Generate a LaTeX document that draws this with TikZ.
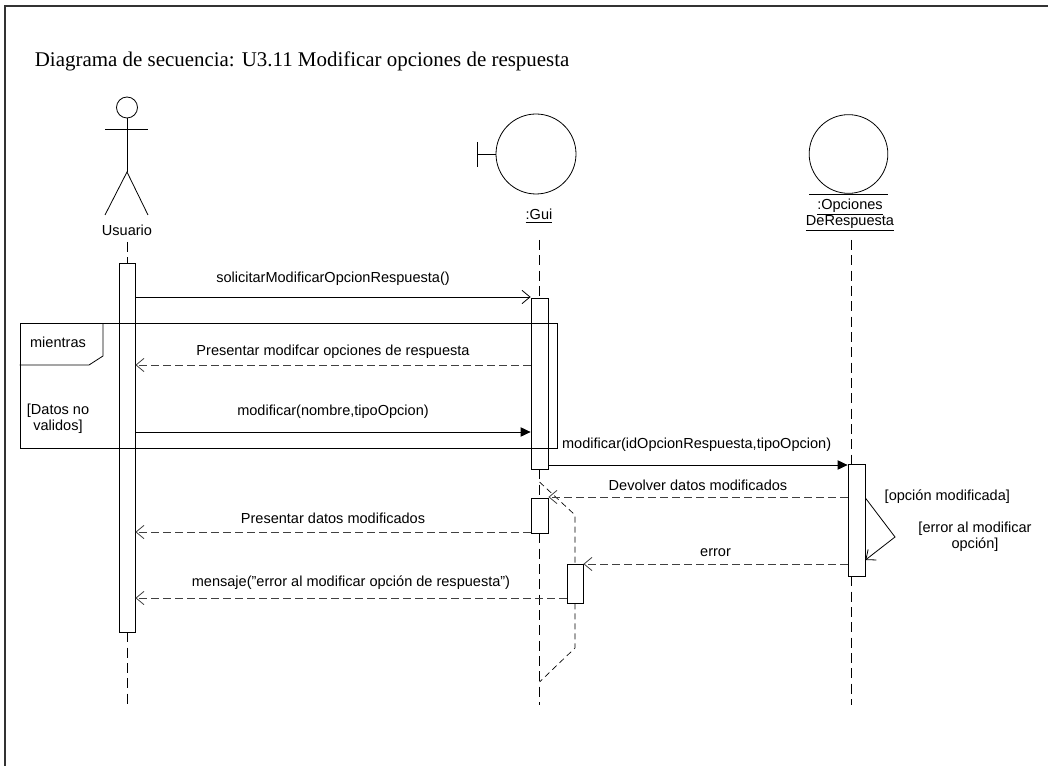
\documentclass[tikz,border=0pt]{standalone}
\usepackage{fontspec}
\setmainfont{Liberation Serif}
\setsansfont{Liberation Sans}
\usetikzlibrary{arrows.meta,fit}

\begin{document}
\begin{tikzpicture}[x=0.75pt, y=-0.75pt, line width=0.6pt,
    lbl/.style={font=\sffamily\fontsize{10.9}{12.3}\selectfont, inner sep=1pt},
    lifeline/.style={dash pattern=on 7.5pt off 4pt},
    branch/.style={dash pattern=on 4.5pt off 3pt, line width=0.5pt},
    actbar/.style={draw, fill=white, inner sep=0pt},
    call/.style={-{Triangle[length=7.5pt,width=7pt]}},
    send/.style={-{Straight Barb[length=6pt,width=10pt]}},
    reply/.style={send, dash pattern=on 6pt off 3pt, draw=black!75}]

    \useasboundingbox (0,0) rectangle (1048,766);

    % Frame and title
    \draw[line width=1pt, black!80] (1048,6) -- (5,6) -- (5,766);
    \node[anchor=base west, font=\rmfamily\fontsize{15.7}{18}\selectfont] (title) at (30,67)
        {Diagrama de secuencia: U3.11 Modificar opciones de respuesta};

    % Actor Usuario
    \node[draw, circle, minimum size=15.75pt, inner sep=0pt] (head) at (127,107.5) {};
    \draw (105,129) -- (148,129);
    \draw (head.south) -- (127,172) coordinate (hip);
    \draw (105,215) -- (hip) -- (148,215);
    \node[lbl] (usuario) at (127,230) {Usuario};

    % Boundary :Gui
    \node[draw, circle, minimum size=60pt, inner sep=0pt] (gui) at (536,154) {};
    \draw (gui.west) -- (477,154);
    \draw (477,142) -- (477,167);
    \node[lbl] (guilbl) at (539,216) {\underline{:Gui}};

    % Entity :OpcionesDeRespuesta
    \node[draw, circle, minimum size=59pt, inner sep=0pt] (opc) at (848.5,154) {};
    \draw (809,194) -- (888,194);
    \node[lbl, align=center] (opclbl) at (850,215) {\underline{:Opciones}\\\underline{DeRespuesta}};

    % Lifelines
    \coordinate (usrtop) at (127,242);
    \coordinate (usrend) at (127,705);
    \coordinate (guitop) at (539.5,240);
    \coordinate (guiend) at (539.5,705);
    \coordinate (opctop) at (851,240);
    \coordinate (opcend) at (851,705);

    % Activation bars
    \node[actbar, fit={(119,263) (135,632)}] (usrbar) {};
    \node[actbar, fit={(531,298) (548,469)}] (guibarA) {};
    \node[actbar, fit={(531,498) (548,533)}] (guibarB) {};
    \node[actbar, fit={(567,564) (583,603)}] (guibarC) {};
    \node[actbar, fit={(848,464) (865,576)}] (opcbar) {};

    \draw[lifeline] (usrtop) -- (usrbar.north);
    \draw[lifeline] (usrbar.south) -- (usrend);
    \draw[lifeline] (guitop) -- (guibarA.north);
    \draw[lifeline] (guibarA.south) -- (guibarB.north);
    \draw[lifeline] (guibarB.south) -- (guiend);
    \draw[lifeline] (opctop) -- (opctop |- opcbar.north);
    \draw[lifeline] (opctop |- opcbar.south) -- (opcend);

    % Concurrent branch of :Gui
    \coordinate (fork) at (539.5,482);
    \draw[branch] (fork) -- (575,515) -- (guibarC.north);
    \draw[branch] (guibarC.south) -- (575,648) -- (539.5,682);

    % Loop fragment
    \node[draw, fit={(20,323) (557,448)}, inner sep=0pt] (loop) {};
    \draw (loop.north west |- 0,365) -- (89,365) -- (103,356) -- (103,323);
    \node[lbl] (looptag) at (58,342) {mientras};
    \node[lbl, align=center] (guard) at (58,419) {[Datos no\\validos]};

    % Messages
    \draw[send] (usrbar.east |- 0,297) -- node[lbl, above=7pt] {solicitarModificarOpcionRespuesta()} (guibarA.west |- 0,297);
    \draw[reply] (guibarA.west |- 0,365) -- node[lbl, above=3.3pt] {Presentar modifcar opciones de respuesta} (usrbar.east |- 0,365);
    \draw[call] (usrbar.east |- 0,432) -- node[lbl, above=9pt] {modificar(nombre,tipoOpcion)} (guibarA.west |- 0,432);
    \draw[call] (guibarA.east |- 0,465) -- node[lbl, pos=0, anchor=south west, xshift=9pt, yshift=8.5pt] {modificar(idOpcionRespuesta,tipoOpcion)} (opcbar.west |- 0,465);
    \draw[reply] (opcbar.west |- 0,497) -- node[lbl, above=3.3pt] {Devolver datos modificados} (guibarB.east |- 0,497);
    \draw[reply] (guibarB.west |- 0,532) -- node[lbl, above=4.8pt] {Presentar datos modificados} (usrbar.east |- 0,532);
    \draw[reply] (opcbar.west |- 0,564) -- node[lbl, above=4pt] {error} (guibarC.east |- 0,564);
    \draw[reply] (guibarC.west |- 0,598) -- node[lbl, above=4.8pt] {mensaje("error al modificar opción de respuesta")} (usrbar.east |- 0,598);

    % Self message with guards
    \draw[send] (opcbar.east |- 0,498) -- (895,537) coordinate (turn) -- (opcbar.east |- 0,560);
    \node[lbl, anchor=west] (okguard) at (883,497) {[opción modificada]};
    \node[lbl, align=center] (errguard) at (975,537) {[error al modificar\\opción]};
\end{tikzpicture}
\end{document}
